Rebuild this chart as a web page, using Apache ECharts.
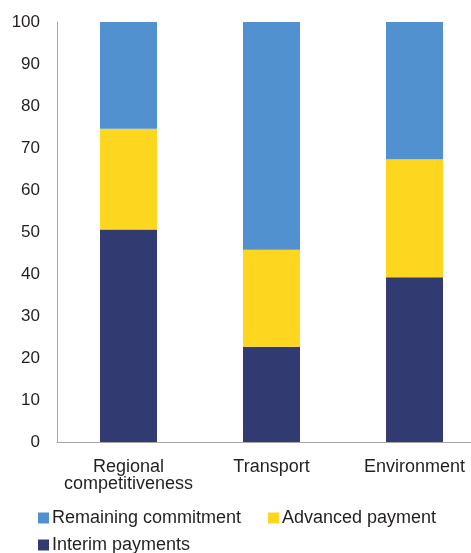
<!DOCTYPE html>
<html>
<head>
<meta charset="utf-8">
<script src="https://cdn.jsdelivr.net/npm/echarts@6/dist/echarts.min.js"></script>
<style>
  html, body { margin: 0; padding: 0; background: #fff; }
  #chart { width: 471px; height: 553px; }
</style>
</head>
<body>
<div id="chart"></div>
<script>
const categories = ['Regional\ncompetitiveness', 'Transport', 'Environment'];
const interimPayments = [50.6, 22.7, 39.2];
const advancedPayment = [24.0, 23.1, 28.1];
const remainingCommitment = [25.4, 54.2, 32.7];
const yTicks = { min: 0, max: 100, interval: 10 };

const textColor = '#231f20';
const fontFamily = 'Liberation Sans, Arial, sans-serif';

function legendAt(name, left, top) {
  return {
    data: [name],
    left: left,
    top: top,
    orient: 'horizontal',
    icon: 'rect',
    itemWidth: 11,
    itemHeight: 11,
    padding: 0,
    selectedMode: false,
    textStyle: { color: textColor, fontSize: 18, fontFamily: fontFamily, padding: [0, 0, 0, -2] }
  };
}

const chart = echarts.init(document.getElementById('chart'));
chart.setOption({
  animation: false,
  grid: { left: 57, width: 429, top: 22, bottom: 111, outerBoundsMode: 'none', containLabel: false },
  legend: [
    legendAt('Remaining commitment', 38, 509),
    legendAt('Advanced payment', 268, 509),
    legendAt('Interim payments', 38, 536)
  ],
  xAxis: {
    type: 'category',
    data: categories,
    axisLine: { lineStyle: { color: '#a6a6a6', width: 1 } },
    axisTick: { show: false },
    axisLabel: {
      interval: 0,
      color: textColor,
      fontSize: 18,
      fontFamily: fontFamily,
      lineHeight: 17,
      margin: 17
    }
  },
  yAxis: {
    type: 'value',
    min: yTicks.min,
    max: yTicks.max,
    interval: yTicks.interval,
    axisLine: { show: true, lineStyle: { color: '#a6a6a6', width: 1 } },
    axisTick: { show: false },
    splitLine: { show: false },
    axisLabel: { color: textColor, fontSize: 17, fontFamily: fontFamily, margin: 17 }
  },
  series: [
    {
      name: 'Interim payments',
      type: 'bar',
      stack: 'total',
      barWidth: 57,
      data: interimPayments,
      itemStyle: { color: '#313b72' }
    },
    {
      name: 'Advanced payment',
      type: 'bar',
      stack: 'total',
      barWidth: 57,
      data: advancedPayment,
      itemStyle: { color: '#fdd620' }
    },
    {
      name: 'Remaining commitment',
      type: 'bar',
      stack: 'total',
      barWidth: 57,
      data: remainingCommitment,
      itemStyle: { color: '#5291cf' }
    }
  ]
});
</script>
</body>
</html>
